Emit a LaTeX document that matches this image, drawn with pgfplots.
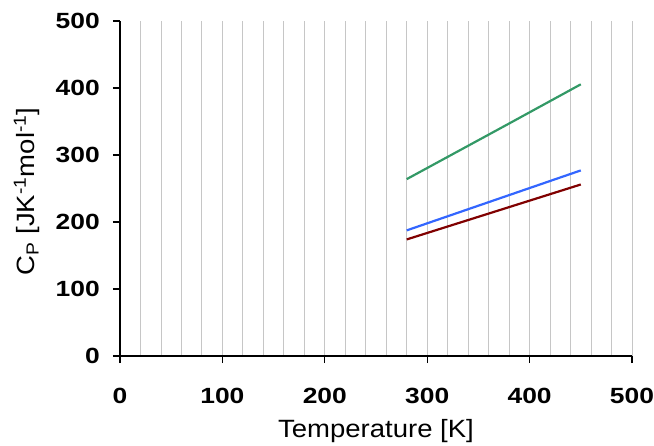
\documentclass[border=0pt]{standalone}
\usepackage{pgfplots}
\pgfplotsset{compat=1.18}
\usepackage{fontspec}
\setmainfont{Liberation Sans}[FakeStretch=1.1]
\newfontfamily\tickfont{Liberation Sans}[FakeStretch=1.2]
\definecolor{cgreen}{HTML}{339966}
\definecolor{cblue}{HTML}{3366FF}
\definecolor{cred}{HTML}{800000}
\begin{document}
\begin{tikzpicture}
\begin{axis}[
  name=ax,
  at={(0,0)}, anchor=south west,
  scale only axis,
  width=512pt, height=335pt,
  xmin=0, xmax=500, ymin=0, ymax=500,
  axis lines*=left,
  separate axis lines,
  x axis line style={draw=black, line width=1.3pt},
  y axis line style={draw=black, line width=1.3pt},
  xtick={0,100,...,500}, ytick={0,100,...,500},
  minor xtick={20,40,...,480},
  xmajorgrids, xminorgrids,
  major grid style={draw=gray!45, line width=0.9pt},
  minor grid style={draw=gray!45, line width=0.9pt},
  xtick align=outside, ytick align=outside,
  xtick pos=left, ytick pos=left,
  tickwidth=7pt,
  major tick style={draw=black, line width=1.3pt},
  minor tick style={draw=none},
  /pgf/number format/assume math mode=true,
  ticklabel style={font=\fontsize{22}{24}\tickfont\bfseries, inner sep=0pt},
  xticklabel style={anchor=north, yshift=-25pt},
  yticklabel style={anchor=east, xshift=-13pt},
  label style={font=\fontsize{25}{27}\selectfont, inner sep=0pt},
  xlabel={Temperature [K]},
  xlabel style={at={(axis description cs:0.5,0)}, anchor=center, yshift=-75pt},
  ylabel={C\textsubscript{P} [JK\textsuperscript{-1}mol\textsuperscript{-1}]},
  ylabel style={at={(axis description cs:0,0.5)}, anchor=center, yshift=93pt, xshift=-3pt},
  clip=false,
]
\addplot[cgreen, line width=2.2pt] coordinates {(280,264) (380,347) (450,405.5)};
\addplot[cblue, line width=2.2pt] coordinates {(280,187.5) (450,277)};
\addplot[cred, line width=2.2pt] coordinates {(280,174) (450,256)};
\end{axis}
\pgfresetboundingbox
\path ([xshift=-120pt,yshift=-89pt]ax.south west) rectangle ([xshift=22pt,yshift=21pt]ax.north east);
\end{tikzpicture}
\end{document}
